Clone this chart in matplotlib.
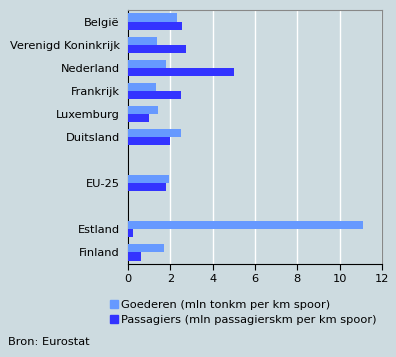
import numpy as np
import matplotlib.pyplot as plt
from matplotlib.patches import Patch

countries = ['België', 'Verenigd Koninkrijk', 'Nederland', 'Frankrijk', 'Luxemburg',
             'Duitsland', '', 'EU-25', '', 'Estland', 'Finland']
goederen = [2.30, 1.35, 1.78, 1.31, 1.40, 2.49, np.nan, 1.94, np.nan, 11.08, 1.69]
passagiers = [2.53, 2.72, 4.99, 2.49, 0.98, 1.98, np.nan, 1.78, np.nan, 0.22, 0.60]
xticks = [0, 2, 4, 6, 8, 10, 12]

bg = '#cddbe0'
c_goed = '#6699ff'
c_pass = '#3333ff'

plt.rcParams['font.family'] = 'DejaVu Sans'
plt.rcParams['font.size'] = 8.2

fig = plt.figure(figsize=(3.96, 3.57), dpi=100, facecolor=bg)
ax = fig.add_axes([128/396, 1-264/357, (382-128)/396, (264-10)/357], facecolor=bg)

y = np.arange(len(countries))
h = 0.35
ax.barh(y - h/2, goederen, height=h, color=c_goed, zorder=3)
ax.barh(y + h/2, passagiers, height=h, color=c_pass, zorder=3)

ax.set_ylim(len(countries) - 0.5, -0.5)
ax.set_xlim(0, 12)
ax.set_xticks(xticks)
ax.set_xticklabels([str(t) for t in xticks])
ax.set_yticks([i for i, c in enumerate(countries) if c])
ax.set_yticklabels([c for c in countries if c])
ax.tick_params(axis='y', length=0, pad=6)
ax.tick_params(axis='x', length=4, direction='out', pad=3)
ax.grid(axis='x', color='white', linewidth=1, zorder=0)

ax.spines['left'].set_color('black')
ax.spines['bottom'].set_color('black')
ax.spines['top'].set_color('#888888')
ax.spines['right'].set_color('#888888')

handles = [Patch(color=c_goed, label='Goederen (mln tonkm per km spoor)'),
           Patch(color=c_pass, label='Passagiers (mln passagierskm per km spoor)')]
fig.legend(handles=handles, loc='upper left', bbox_to_anchor=(105/396, 1-295/357),
           frameon=False, handlelength=0.7, handleheight=0.7, handletextpad=0.3,
           labelspacing=0.45, borderaxespad=0)

fig.text(8/396, 1-342/357, 'Bron: Eurostat', va='center', ha='left')

fig.savefig('out.png', dpi=100, facecolor=bg)
